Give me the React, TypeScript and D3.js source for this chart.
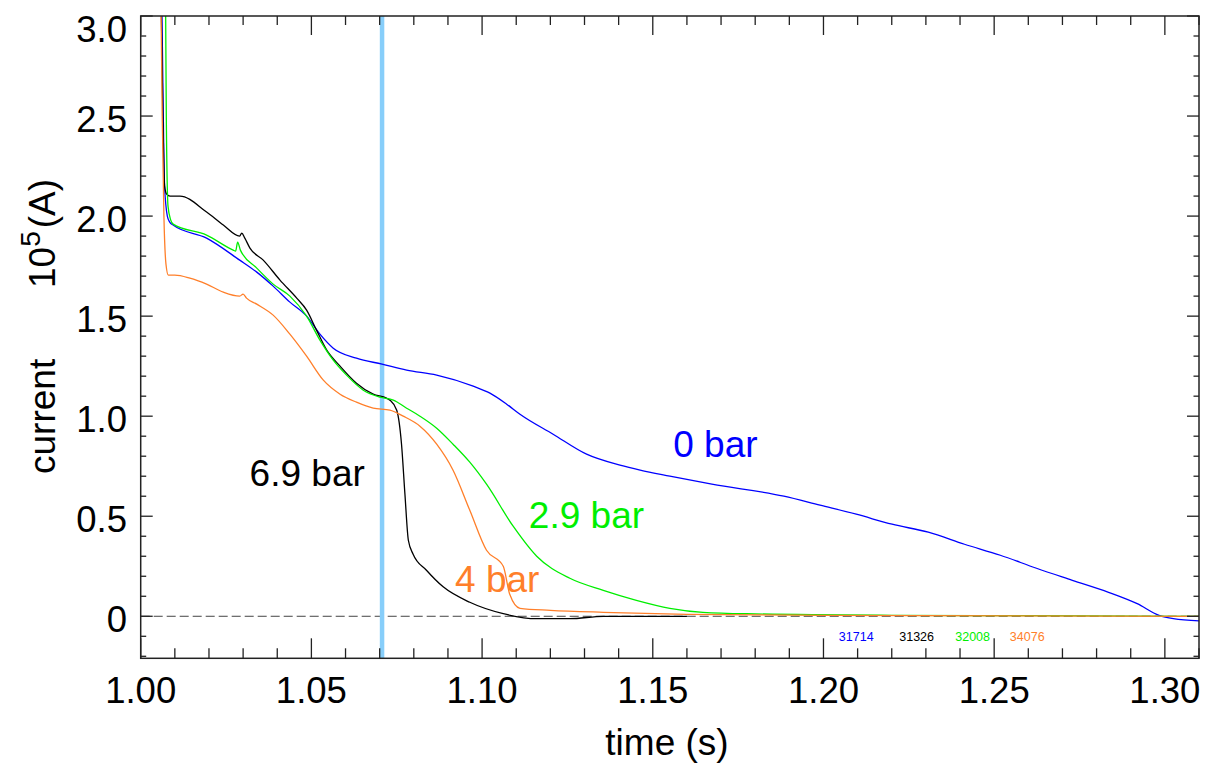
import React from "react";
import * as d3 from "d3";

// ---- data (time in s, current in 10^5 A) ----
const blueSeries: [number, number][] = [
  [1.006, 3.3], [1.0067, 2.4], [1.007, 2.15], [1.0078, 2.0], [1.0085, 1.97], [1.0095, 1.955],
  [1.0193, 1.89], [1.029, 1.78], [1.034, 1.72], [1.0388, 1.65], [1.0437, 1.57], [1.0486, 1.5],
  [1.0525, 1.41], [1.0564, 1.34], [1.0632, 1.29], [1.0707, 1.26], [1.0779, 1.23], [1.0867, 1.205],
  [1.0974, 1.15], [1.1023, 1.115], [1.1072, 1.06], [1.1111, 1.01], [1.1208, 0.91],
  [1.1306, 0.81], [1.1404, 0.755], [1.1463, 0.73], [1.155, 0.7], [1.1673, 0.66], [1.1884, 0.6],
  [1.199, 0.555], [1.2096, 0.51], [1.2201, 0.46], [1.2307, 0.42], [1.2413, 0.36], [1.2518, 0.305],
  [1.2624, 0.24], [1.2729, 0.18], [1.2835, 0.12], [1.2919, 0.063], [1.2983, 0.005], [1.3025, -0.012],
  [1.31, -0.023],
];
const blackSeries: [number, number][] = [
  [1.0058, 3.3], [1.0065, 2.5], [1.007, 2.15], [1.0076, 2.11], [1.0086, 2.1], [1.0115, 2.1],
  [1.0193, 2.02], [1.0242, 1.955], [1.029, 1.9], [1.0296, 1.915], [1.0305, 1.89], [1.032, 1.84],
  [1.0359, 1.78], [1.0408, 1.68], [1.0457, 1.59], [1.0486, 1.53], [1.0515, 1.43], [1.0545, 1.33],
  [1.0584, 1.25], [1.0632, 1.165], [1.0681, 1.11], [1.072, 1.09], [1.073, 1.08], [1.075, 1.03],
  [1.0764, 0.86], [1.0774, 0.61], [1.0784, 0.38], [1.0798, 0.31], [1.0837, 0.23], [1.0886, 0.147],
  [1.0964, 0.07], [1.1062, 0.013], [1.116, -0.012], [1.1257, -0.012], [1.1355, 0.0], [1.16, 0.0],
];
const greenSeries: [number, number][] = [
  [1.0072, 3.3], [1.0075, 2.5], [1.008, 2.05], [1.0088, 1.98], [1.0095, 1.96], [1.0193, 1.905],
  [1.0271, 1.83], [1.0278, 1.825], [1.0284, 1.87], [1.0292, 1.83], [1.034, 1.74], [1.0388, 1.66],
  [1.0437, 1.6], [1.0486, 1.5], [1.0525, 1.38], [1.0564, 1.28], [1.0603, 1.205], [1.0652, 1.13],
  [1.0701, 1.095], [1.074, 1.08], [1.0779, 1.04], [1.0818, 1.0], [1.0867, 0.94], [1.0915, 0.86],
  [1.0964, 0.77], [1.1013, 0.66], [1.1091, 0.45], [1.116, 0.3], [1.1257, 0.19], [1.1355, 0.13],
  [1.1452, 0.08], [1.155, 0.04], [1.1647, 0.02], [1.18, 0.012], [1.22, 0.005], [1.26, 0.003],
  [1.31, 0.0],
];
const orangeSeries: [number, number][] = [
  [1.0058, 3.3], [1.0063, 2.5], [1.0068, 2.0], [1.0074, 1.76], [1.0081, 1.705], [1.01, 1.705],
  [1.0144, 1.69], [1.0193, 1.66], [1.0242, 1.62], [1.029, 1.6], [1.03, 1.61], [1.031, 1.59],
  [1.034, 1.56], [1.0388, 1.505], [1.0437, 1.41], [1.0486, 1.3], [1.0535, 1.18], [1.0584, 1.11],
  [1.0632, 1.07], [1.0681, 1.04], [1.073, 1.03], [1.0769, 1.0], [1.0818, 0.95], [1.0867, 0.86],
  [1.0915, 0.73], [1.0964, 0.53], [1.1013, 0.33], [1.1062, 0.25], [1.1081, 0.11], [1.1111, 0.04],
  [1.12, 0.03], [1.1355, 0.02], [1.16, 0.01], [1.2, 0.005], [1.31, 0.0],
];

const seriesColors = ["#0000ff", "#000000", "#00ee00", "#ff7f2a"];
const seriesLabels = ["0 bar", "6.9 bar", "2.9 bar", "4 bar"];
const shotNumbers = ["31714", "31326", "32008", "34076"];

const xMajorTicks = [1.0, 1.05, 1.1, 1.15, 1.2, 1.25, 1.3];
const xTickLabels = ["1.00", "1.05", "1.10", "1.15", "1.20", "1.25", "1.30"];
const yMajorTicks = [0, 0.5, 1.0, 1.5, 2.0, 2.5, 3.0];
const yTickLabels = ["0", "0.5", "1.0", "1.5", "2.0", "2.5", "3.0"];
const markerTime = 1.0707;

const X_DOMAIN: [number, number] = [1.0, 1.31];
const Y_DOMAIN: [number, number] = [-0.21, 3.0];

export default function App() {
  const left = 140.7, right = 1199, top = 16, bottom = 658.3;
  const x = d3.scaleLinear().domain(X_DOMAIN).range([left, right]);
  const y = d3.scaleLinear().domain(Y_DOMAIN).range([bottom, top]);
  const line = d3
    .line<[number, number]>()
    .x((d) => x(d[0]))
    .y((d) => y(d[1]))
    .curve(d3.curveMonotoneX);

  const xMinor = d3.range(100, 132).map((v) => v / 100);
  const yMinor = d3.range(-2, 31).map((v) => v / 10);
  const font = "'Liberation Sans', Arial, Helvetica, sans-serif";
  const axisColor = "#222";
  const series = [blueSeries, blackSeries, greenSeries, orangeSeries];

  // label anchor positions (time, value)
  const labelPos: [number, number, string][] = [
    [1.156, 0.795, "start"],
    [1.0319, 0.65, "start"],
    [1.1137, 0.44, "start"],
    [1.0921, 0.12, "start"],
  ];
  const shotPos = [1.2045, 1.2222, 1.2386, 1.2546];

  return (
    <svg width={1212} height={767} style={{ position: "absolute", left: 0, top: 0, background: "#fff" }} fontFamily={font}>
      <defs>
        <clipPath id="plotClip">
          <rect x={left} y={top} width={right - left} height={bottom - top} />
        </clipPath>
      </defs>

      {/* zero dashed line */}
      <line x1={left} x2={right} y1={y(0)} y2={y(0)} stroke="#444" strokeWidth={1} strokeDasharray="9 4" />

      {/* marker vertical line */}
      <line x1={x(markerTime)} x2={x(markerTime)} y1={top} y2={bottom} stroke="#87cefa" strokeWidth={4.5} />

      <g clipPath="url(#plotClip)">
        {series.map((s, i) => (
          <path key={i} d={line(s) || ""} fill="none" stroke={seriesColors[i]} strokeWidth={1.3} strokeLinejoin="round" />
        ))}
      </g>

      {/* frame */}
      <rect x={left} y={top} width={right - left} height={bottom - top} fill="none" stroke={axisColor} strokeWidth={1.5} />

      {/* x ticks bottom & top */}
      {xMinor.map((t, i) => {
        const major = xMajorTicks.some((m) => Math.abs(m - t) < 1e-6);
        const lb = major ? 20 : 10;
        const lt = major ? 19 : 9;
        return (
          <g key={"xt" + i} stroke={axisColor} strokeWidth={1.3}>
            <line x1={x(t)} x2={x(t)} y1={bottom} y2={bottom - lb} />
            <line x1={x(t)} x2={x(t)} y1={top} y2={top + lt} />
          </g>
        );
      })}
      {xMajorTicks.map((t, i) => (
        <text key={"xl" + i} x={x(t)} y={703} textAnchor="middle" fontSize={36.5} fill="#000">
          {xTickLabels[i]}
        </text>
      ))}

      {/* y ticks left & right */}
      {yMinor.map((v, i) => {
        const major = yMajorTicks.some((m) => Math.abs(m - v) < 1e-6);
        const l = major ? 12 : 5.5;
        return (
          <g key={"yt" + i} stroke={axisColor} strokeWidth={1.3}>
            <line x1={left} x2={left + l} y1={y(v)} y2={y(v)} />
            <line x1={right} x2={right - l} y1={y(v)} y2={y(v)} />
          </g>
        );
      })}
      {yMajorTicks.map((v, i) => (
        <text key={"yl" + i} x={127} y={i === yMajorTicks.length - 1 ? y(v) + 25.5 : y(v) + 16} textAnchor="end" fontSize={36.5} fill="#000">
          {yTickLabels[i]}
        </text>
      ))}

      {/* axis titles */}
      <text x={667} y={755} textAnchor="middle" fontSize={37} fill="#000">time (s)</text>
      <text transform="translate(55,474) rotate(-90)" fontSize={37} fill="#000">current</text>
      <text transform="translate(55,288) rotate(-90)" fontSize={37} fill="#000">
        10<tspan fontSize={28} dy={-15}>5</tspan><tspan dx={3} dy={15}>(A)</tspan>
      </text>

      {/* series labels */}
      {labelPos.map((p, i) => (
        <text key={"lab" + i} x={x(p[0])} y={y(p[1])} fontSize={37} fill={seriesColors[i]} textAnchor={p[2] as any}>
          {seriesLabels[i]}
        </text>
      ))}

      {/* shot numbers */}
      {shotNumbers.map((s, i) => (
        <text key={"sh" + i} x={x(shotPos[i])} y={640.5} fontSize={12.5} fill={seriesColors[i]}>
          {s}
        </text>
      ))}
    </svg>
  );
}
